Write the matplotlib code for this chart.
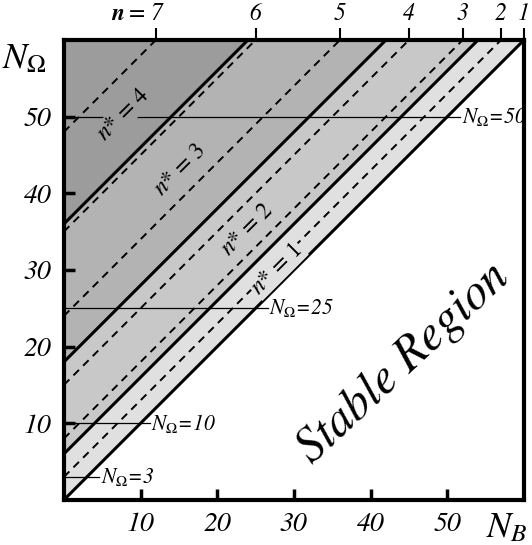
import numpy as np
import matplotlib.pyplot as plt

plt.rcParams["font.family"] = "STIXGeneral"
plt.rcParams["mathtext.fontset"] = "stix"


# boundaries N_Omega = N_B + c
solid_offsets = [0, 6, 18, 36]
dashed_offsets = [3, 8, 15, 24, 35, 48]
band_colors = ["#e0e0e0", "#c8c8c8", "#b3b3b3", "#9c9c9c"]

# top scale: n values where dashed lines reach N_Omega = 60
top_n = [7, 6, 5, 4, 3, 2, 1]
top_x = [12, 25, 36, 45, 52, 57, 60]

# horizontal reference levels and where their lines stop
levels = [50, 25, 10, 3]
level_ends = [51.7, 26.6, 11.2, 4.6]

# n* band labels (x, y)
nstar = [1, 2, 3, 4]
nstar_x = [27.8, 23.9, 15.2, 7.8]
nstar_y = [30.1, 35.3, 43.1, 50.3]

xticks = [10, 20, 30, 40, 50]
yticks = [10, 20, 30, 40, 50]


def plot_diagram():
    fig = plt.figure(figsize=(5.32, 5.45), dpi=100)
    ax = fig.add_axes([0.120, 0.0826, 0.865, 0.844])
    ax.set_xlim(0, 60)
    ax.set_ylim(0, 60)

    xs = np.array([0, 60])

    # shaded bands
    uppers = solid_offsets[1:] + [100]
    for lo, hi, col in zip(solid_offsets, uppers, band_colors):
        ax.fill_between(xs, xs + lo, xs + hi, color=col, lw=0, zorder=1)

    for c in solid_offsets:
        ax.plot(xs, xs + c, color="black", lw=2.2, zorder=3)
    for d in dashed_offsets:
        ax.plot(xs, xs + d, color="black", lw=1.4, ls=(0, (4, 3)), zorder=3)

    # horizontal levels
    for lev, xe in zip(levels, level_ends):
        ax.plot([0, xe], [lev, lev], color="black", lw=0.9, zorder=2)
        ax.text(xe + 0.2, lev, r"$N_{\Omega}$=%d" % lev, fontsize=15.5, style="italic",
                va="center", ha="left", zorder=5)

    # n* labels
    for k, x, y in zip(nstar, nstar_x, nstar_y):
        ax.text(x, y, r"$n$* = %d" % k, fontsize=17, rotation=45, ha="center", va="center",
                rotation_mode="anchor", zorder=4,
                bbox=dict(facecolor=band_colors[k - 1], edgecolor="none", pad=1))

    ax.text(44.3, 17.8, "Stable Region", fontsize=35, style="italic", rotation=43,
            ha="center", va="center", rotation_mode="anchor", zorder=4)

    # axes styling
    for sp in ax.spines.values():
        sp.set_linewidth(3)
        sp.set_zorder(6)
    ax.set_xticks(xticks, labels=[str(v) for v in xticks], fontstyle="italic")
    ax.set_yticks(yticks, labels=[str(v) for v in yticks], fontstyle="italic")
    ax.tick_params(direction="in", length=8, width=2.5, labelsize=20, pad=9)

    top = ax.secondary_xaxis("top")
    top.set_xticks(top_x, labels=[str(n) for n in top_n], fontstyle="italic")
    top.tick_params(direction="out", length=9, width=1.5, labelsize=17, pad=2)
    ax.annotate("=", (top_x[0], 60), xytext=(-8, 11),
                textcoords="offset points", fontsize=17, ha="right", va="bottom",
                annotation_clip=False)
    ax.annotate("n", (top_x[0], 60), xytext=(-23, 11),
                textcoords="offset points", fontsize=17, ha="right", va="bottom",
                fontweight="bold", fontstyle="italic", annotation_clip=False)

    fig.text(0.045, 0.89, r"$N_{\Omega}$", fontsize=26, ha="center", va="center")
    fig.text(0.953, 0.03, r"$N_B$", fontsize=26, ha="center", va="center")

    fig.savefig("out.png", dpi=100)


if __name__ == "__main__":
    plot_diagram()
